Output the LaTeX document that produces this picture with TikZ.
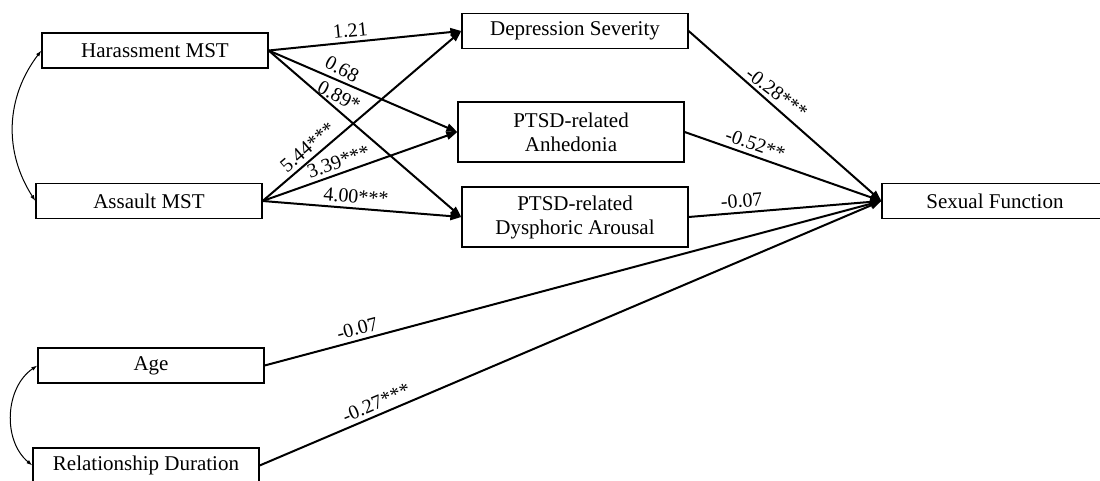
\documentclass[tikz,border=0pt]{standalone}
\usepackage{fontspec}
\setmainfont{Liberation Serif}
\usetikzlibrary{arrows.meta}
\tikzset{
  box/.style={draw, line width=1.3pt, minimum width=226pt, inner sep=0pt, align=center,
    font=\fontsize{21}{24}\selectfont},
  onebox/.style={box, minimum height=35pt},
  twobox/.style={box, minimum height=60pt},
  path/.style={line width=2pt, -{Triangle[length=11pt,width=8pt]}},
  cov/.style={line width=1pt, {Latex[length=6pt,width=4pt]}-{Latex[length=6pt,width=4pt]}},
  coef/.style={font=\fontsize{20}{22}\selectfont, sloped, above=2pt, inner sep=2pt}
}
\begin{document}
\begin{tikzpicture}[x=1pt, y=-1pt]
\clip (0,0) rectangle (1100,481);
\node[onebox] (har) at (155,50.5) {Harassment MST};
\node[onebox] (asl) at (149,201) {Assault MST};
\node[onebox] (dep) at (575,31) {Depression Severity};
\node[twobox] (anh) at (571,132) {PTSD-related\\Anhedonia};
\node[twobox] (dys) at (575,217) {PTSD-related\\Dysphoric Arousal};
\node[onebox] (sex) at (995,201) {Sexual Function};
\node[onebox] (age) at (151,365.5) {Age};
\node[onebox] (rel) at (146,465.5) {Relationship Duration};

\draw[path] (har.east) -- node[coef, pos=.43] {1.21} (dep.west);
\draw[path] (har.east) -- node[coef, pos=.36, rotate=-5] {0.68} (anh.west);
\draw[path] (har.east) -- node[coef, pos=.335, rotate=13] {0.89*} (dys.west);
\draw[path] (asl.east) -- node[coef, pos=.265] {5.44***} (dep.west);
\draw[path] (asl.east) -- node[coef, pos=.41] {3.39***} (anh.west);
\draw[path] (asl.east) -- node[coef, pos=.465] {4.00***} (dys.west);

\draw[path] (dep.east) -- node[coef, pos=.42, rotate=4] {-0.28***} (sex.west);
\draw[path] (anh.east) -- node[coef, pos=.34] {-0.52**} (sex.west);
\draw[path] (dys.east) -- node[coef, pos=.28] {-0.07} (sex.west);
\draw[path] (age.east) -- node[coef, pos=.155] {-0.07} (sex.west);
\draw[path] (rel.east) -- node[coef, pos=.195] {-0.27***} (sex.west);

\draw[cov] (har.west) to[bend right=35] (asl.west);
\draw[cov] (age.west) to[bend right=53] (rel.west);
\end{tikzpicture}
\end{document}
